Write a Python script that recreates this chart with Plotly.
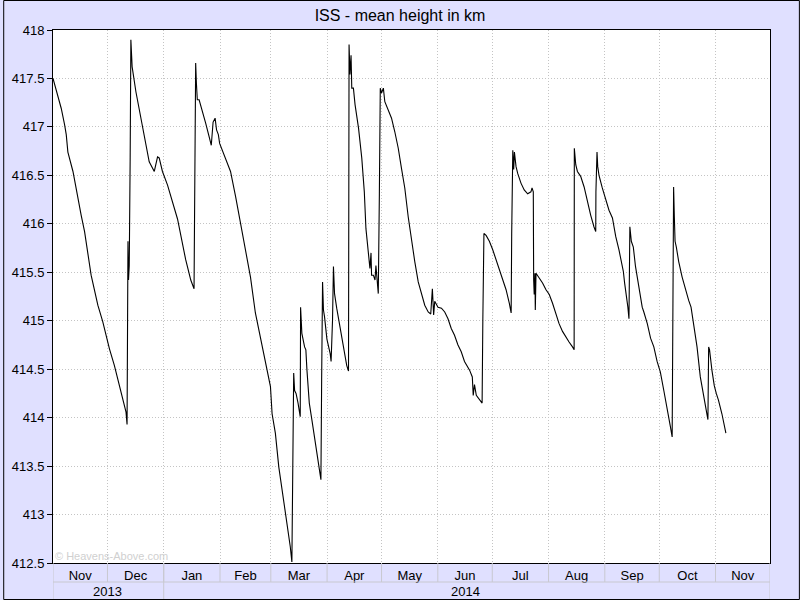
import pandas as pd
import plotly.graph_objects as go

# Days since 2013-11-01 and mean ISS height (km)
day_offsets = [
    0.0, 4.55, 6.4, 7.3, 8.2, 11.0, 15.5, 17.4, 21.0, 24.7, 27.4, 31.1, 33.8, 36.6, 40.2, 40.8,
    40.9, 41.3, 41.6, 42.0, 42.5, 42.9, 43.3, 43.6, 45.7, 48.4, 51.2, 53.0, 55.8, 57.6, 58.5,
    60.3, 63.1, 65.8, 68.6, 73.1, 75.9, 77.7,
    78.3, 78.6, 79.0, 79.5, 80.5, 82.3, 84.1, 86.0, 87.2, 88.2, 89.3, 90.1, 91.1, 91.8, 93.3,
    96.0, 97.8, 100.6, 103.3, 106.0, 108.8, 111.5, 114.3, 117.0, 119.8, 120.7, 122.5, 124.4,
    127.1, 128.9, 130.7, 131.6,
    132.0, 132.6, 133.1, 133.9, 135.0, 136.2,
    136.4, 137.1, 138.6, 139.3, 139.9, 141.2, 142.6, 144.4, 146.3, 147.6,
    148.0, 148.5, 149.0, 149.6, 150.9, 152.7, 153.2,
    154.0, 154.5, 155.1, 156.3, 158.2, 160.0, 161.8, 162.8,
    163.1, 163.6, 164.2, 164.6, 165.5, 166.4, 168.3, 170.1, 170.6, 171.5, 172.4, 173.7, 174.6,
    175.2, 175.5, 176.5, 177.4, 177.9, 178.7, 179.2,
    179.8, 180.3, 181.0, 182.0, 182.8, 184.7, 186.5, 188.3, 190.2, 192.0, 193.8, 195.7, 197.5,
    199.3, 201.2, 203.0, 204.8, 206.7, 208.1, 209.0, 209.7, 210.3, 212.1, 214.0, 215.8, 217.6,
    219.4, 221.2, 223.1, 224.9, 226.7, 229.5, 231.0, 231.5, 232.2, 233.2, 235.0, 236.4,
    236.8, 237.4, 238.6, 240.4, 242.3, 244.1, 245.9, 247.8, 249.6, 251.4, 252.4,
    252.7, 253.3, 253.8, 254.2, 255.1, 256.0, 257.8, 259.6, 261.5, 263.3, 263.9, 264.6,
    264.8, 265.1, 265.5, 265.7, 266.1, 267.9, 269.7, 271.6, 273.4, 275.2, 277.0, 278.8, 280.7,
    282.5, 284.3, 286.2, 287.1,
    287.2, 288.0, 288.9, 290.7, 292.6, 294.4, 296.2, 298.0, 299.0,
    299.1, 299.7, 300.1, 300.8, 302.6, 304.5, 306.3, 308.2, 310.0, 311.8, 313.3, 314.2, 314.9,
    315.8, 316.7, 317.3,
    317.5, 317.8, 318.6, 319.7, 320.9, 322.8, 324.6, 325.5, 327.4, 329.2, 331.0, 332.8, 334.6,
    336.5, 338.3, 340.1, 341.1,
    341.6, 341.9, 342.3, 342.7, 343.4, 344.7, 346.6, 348.4, 350.2, 351.5, 352.9, 354.8, 356.6,
    358.4, 359.9, 360.8,
    361.2, 361.7, 363.0, 364.3, 365.4, 366.6, 368.5, 369.8, 370.7,
]
heights = [
    417.50, 417.19, 417.02, 416.92, 416.74, 416.54, 416.09, 415.92, 415.47, 415.16, 414.99, 414.71, 414.54, 414.34, 414.06, 413.93,
    414.83, 415.82, 415.42, 415.57, 416.66, 417.90, 417.74, 417.62, 417.36, 417.09, 416.81, 416.64, 416.54, 416.69, 416.68,
    416.54, 416.40, 416.23, 416.05, 415.63, 415.42, 415.33,
    416.80, 417.66, 417.45, 417.28, 417.28, 417.17, 417.04, 416.90, 416.81, 417.05, 417.09, 416.97, 416.92, 416.83, 416.76,
    416.62, 416.54, 416.28, 416.00, 415.73, 415.45, 415.08, 414.83, 414.59, 414.32, 414.04, 413.84, 413.49,
    413.15, 412.91, 412.67, 412.51,
    413.49, 414.46, 414.28, 414.25, 414.15, 414.01,
    415.14, 414.87, 414.73, 414.70, 414.49, 414.15, 413.98, 413.74, 413.53, 413.36,
    414.39, 415.40, 415.11, 415.04, 414.81, 414.66, 414.58,
    415.01, 415.56, 415.28, 415.13, 414.92, 414.72, 414.54, 414.48,
    417.85, 417.54, 417.74, 417.40, 417.40, 417.23, 416.99, 416.68, 416.54, 416.33, 415.95, 415.71, 415.54,
    415.70, 415.47, 415.47, 415.42, 415.57, 415.33, 415.28,
    416.31, 417.40, 417.35, 417.40, 417.26, 417.17, 417.09, 416.95, 416.78, 416.57, 416.37, 416.07, 415.82,
    415.61, 415.40, 415.27, 415.16, 415.09, 415.07, 415.33, 415.06, 415.20, 415.14, 415.13, 415.09, 415.02,
    414.92, 414.85, 414.75, 414.68, 414.58, 414.49, 414.42, 414.23, 414.34, 414.23, 414.18, 414.15,
    415.01, 415.90, 415.88, 415.82, 415.73, 415.63, 415.54, 415.42, 415.32, 415.18, 415.08,
    415.90, 416.76, 416.56, 416.74, 416.59, 416.52, 416.42, 416.35, 416.31, 416.33, 416.37, 416.33,
    415.42, 415.27, 415.49, 415.11, 415.49, 415.44, 415.39, 415.32, 415.27, 415.18, 415.08, 414.97, 414.89,
    414.83, 414.78, 414.73, 414.70,
    416.78, 416.61, 416.54, 416.49, 416.38, 416.23, 416.09, 415.97, 415.92,
    416.33, 416.74, 416.59, 416.50, 416.37, 416.25, 416.14, 416.06, 415.87, 415.73, 415.59, 415.51, 415.39,
    415.28, 415.14, 415.02,
    415.49, 415.97, 415.82, 415.76, 415.56, 415.35, 415.14, 415.09, 414.97, 414.82, 414.73, 414.58, 414.47,
    414.28, 414.11, 413.91, 413.80,
    414.97, 416.38, 416.07, 415.82, 415.76, 415.61, 415.45, 415.32, 415.21, 415.14, 414.97, 414.73, 414.42,
    414.22, 414.08, 413.98,
    414.73, 414.70, 414.49, 414.33, 414.25, 414.18, 414.04, 413.94, 413.84,
]

y_ticks = [412.5, 413, 413.5, 414, 414.5, 415, 415.5, 416, 416.5, 417, 417.5, 418]
y_tick_text = ["412.5", "413", "413.5", "414", "414.5", "415", "415.5", "416", "416.5", "417", "417.5", "418"]
year_labels = ["2013", "2014"]
year_label_dates = ["2013-12-01", "2014-06-16"]
year_starts = ["2013-11-01", "2014-01-01", "2014-12-01"]
x_range = ["2013-11-01", "2014-12-01"]

start = pd.Timestamp("2013-11-01")
dates = [start + pd.Timedelta(days=d) for d in day_offsets]
month_starts = pd.date_range("2013-12-01", "2014-11-01", freq="MS")

FONT = "Liberation Sans, Arial, sans-serif"
BG = "#E0E0FF"
DIV = "#C8C8D0"
GRID = "#C4C4C4"

# pixel helpers for paper coords (plot area: x 50..770, y 30..563)
PW, PH = 720.0, 533.0
def px_x(p):
    return (p - 50) / PW
def px_y(p):
    return (563 - p) / PH

fig = go.Figure()
fig.add_trace(go.Scatter(x=dates, y=heights, mode="lines",
                         line=dict(color="black", width=1.1), hoverinfo="skip",
                         showlegend=False))

shapes = []
for m in month_starts:
    shapes.append(dict(type="line", xref="x", yref="paper", x0=m, x1=m,
                       y0=px_y(563), y1=px_y(582), line=dict(color=DIV, width=1)))
for ys in year_starts:
    shapes.append(dict(type="line", xref="x", yref="paper", x0=ys, x1=ys,
                       y0=px_y(563), y1=px_y(600), line=dict(color=DIV, width=1)))
shapes.append(dict(type="line", xref="paper", yref="paper", x0=0, x1=1,
                   y0=px_y(582), y1=px_y(582), line=dict(color=DIV, width=1)))
shapes.append(dict(type="rect", xref="paper", yref="paper",
                   x0=px_x(0.5), x1=px_x(799.5), y0=px_y(599.5), y1=px_y(0.5),
                   line=dict(color="black", width=1), fillcolor="rgba(0,0,0,0)"))

annotations = []
for lbl, d in zip(year_labels, year_label_dates):
    annotations.append(dict(text=lbl, x=d, xref="x", y=px_y(591), yref="paper",
                            showarrow=False, font=dict(family=FONT, size=13, color="black"),
                            xanchor="center", yanchor="middle"))
annotations.append(dict(text="© Heavens-Above.com", x=px_x(50), y=px_y(556), xref="paper",
                        yref="paper", showarrow=False, xanchor="left", yanchor="middle",
                        font=dict(family=FONT, size=11, color="#D0D0D0")))

fig.update_layout(
    width=800, height=600,
    paper_bgcolor=BG, plot_bgcolor="white",
    margin=dict(l=50, r=30, t=30, b=37, pad=0),
    title=dict(text="ISS - mean height in km", x=0.5, xref="container", xanchor="center",
               y=1 - 15 / 600, yref="container", yanchor="middle",
               font=dict(family=FONT, size=16, color="black")),
    font=dict(family=FONT, size=13, color="black"),
    shapes=shapes, annotations=annotations,
    hovermode=False,
)
fig.update_xaxes(type="date", range=x_range, dtick="M1", tick0="2013-11-01",
                 tickformat="%b", ticklabelmode="period", ticks="",
                 showgrid=True, gridcolor=GRID, griddash="1px,2px", gridwidth=1,
                 showline=True, mirror=True, linecolor="black", linewidth=1,
                 tickfont=dict(family=FONT, size=13, color="black"), zeroline=False)
fig.update_yaxes(range=[412.5, 418], tickvals=y_ticks, ticktext=y_tick_text,
                 ticks="outside", ticklen=5, tickcolor="black",
                 showgrid=True, gridcolor=GRID, griddash="1px,2px", gridwidth=1,
                 showline=True, mirror=True, linecolor="black", linewidth=1,
                 tickfont=dict(family=FONT, size=13, color="black"), zeroline=False)

fig.write_html("out.html", config={"displayModeBar": False},
               post_script="document.body.style.margin='0px';document.body.style.overflow='hidden';")
